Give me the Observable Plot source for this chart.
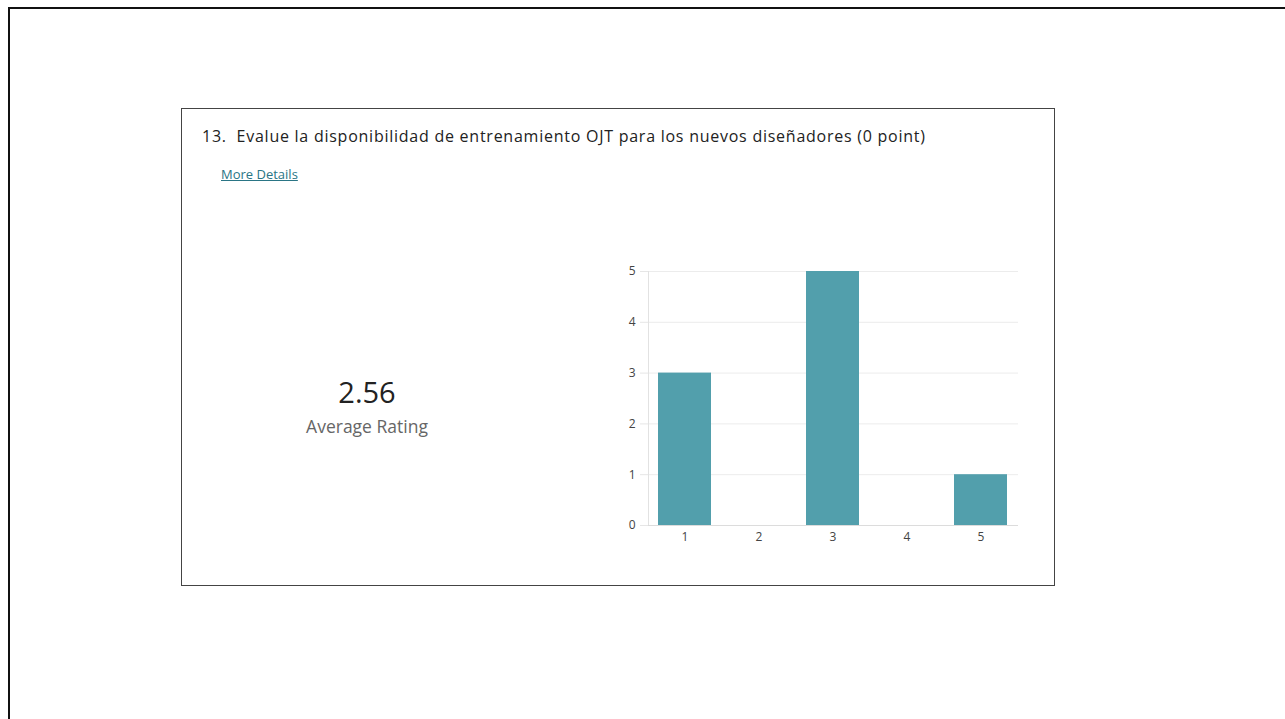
<!DOCTYPE html>
<html>
<head>
<meta charset="utf-8">
<script src="https://cdn.jsdelivr.net/npm/d3@7"></script>
<script src="https://cdn.jsdelivr.net/npm/@observablehq/plot@0.6"></script>
<style>
  html, body { margin: 0; padding: 0; width: 1285px; height: 719px; overflow: hidden; background: #fff; font-family: "Open Sans", "Noto Sans", sans-serif; }
  #outer { position: absolute; left: 8px; top: 7px; width: 1400px; height: 800px; border: 2px solid #111; box-sizing: border-box; }
  #card { position: absolute; left: 181px; top: 108px; width: 874px; height: 478px; border: 1px solid #444; box-sizing: border-box; }
  #title { position: absolute; left: 202px; top: 125px; font-size: 16px; letter-spacing: 0.75px; color: #222; white-space: nowrap; }
  #more { position: absolute; left: 221px; top: 165px; font-size: 13px; color: #2a7585; text-decoration: underline; white-space: nowrap; }
  #avg { position: absolute; left: 267px; width: 200px; top: 372px; text-align: center; font-size: 29px; color: #222; }
  #avglabel { position: absolute; left: 267px; width: 200px; top: 414px; text-align: center; font-size: 17.5px; color: #666; }
  #chart { position: absolute; left: 600px; top: 250px; }
</style>
</head>
<body>
<div id="outer"></div>
<div id="card"></div>
<div id="title">13.&nbsp; Evalue la disponibilidad de entrenamiento OJT para los nuevos diseñadores (0 point)</div>
<div id="more">More Details</div>
<div id="avg"></div>
<div id="avglabel">Average Rating</div>
<div id="chart"></div>
<script>
const ratings = ["1", "2", "3", "4", "5"];
const counts = [3, 0, 5, 0, 1];
const yTicks = [0, 1, 2, 3, 4, 5];
const averageRating = "2.56";

document.getElementById("avg").textContent = averageRating;
const data = ratings.map((r, i) => ({rating: r, count: counts[i]}));

const chart = Plot.plot({
  width: 430,
  height: 305,
  marginLeft: 48,
  marginRight: 12,
  marginTop: 21,
  marginBottom: 30,
  style: {fontFamily: "'Open Sans', 'Noto Sans', sans-serif", fontSize: "12px", color: "#444", background: "transparent"},
  x: {domain: ratings, paddingInner: 0.28, paddingOuter: 0.14, label: null},
  y: {domain: [0, 5], label: null},
  marks: [
    Plot.ruleY(yTicks.filter(d => d > 0), {stroke: "#ececec", strokeWidth: 1}),
    Plot.frame({anchor: "left", stroke: "#e2e2e2"}),
    Plot.barY(data, {x: "rating", y: "count", fill: "#529fac"}),
    Plot.ruleY([0], {stroke: "#dcdcdc"}),
    Plot.axisX({tickSize: 0, tickPadding: 7, fill: "#444"}),
    Plot.axisY({ticks: yTicks, tickSize: 8, tickPadding: 5, stroke: "#e6e6e6", strokeOpacity: 1, tickFormat: d => String(d), fill: "#444"})
  ]
});
document.getElementById("chart").appendChild(chart);
</script>
</body>
</html>
